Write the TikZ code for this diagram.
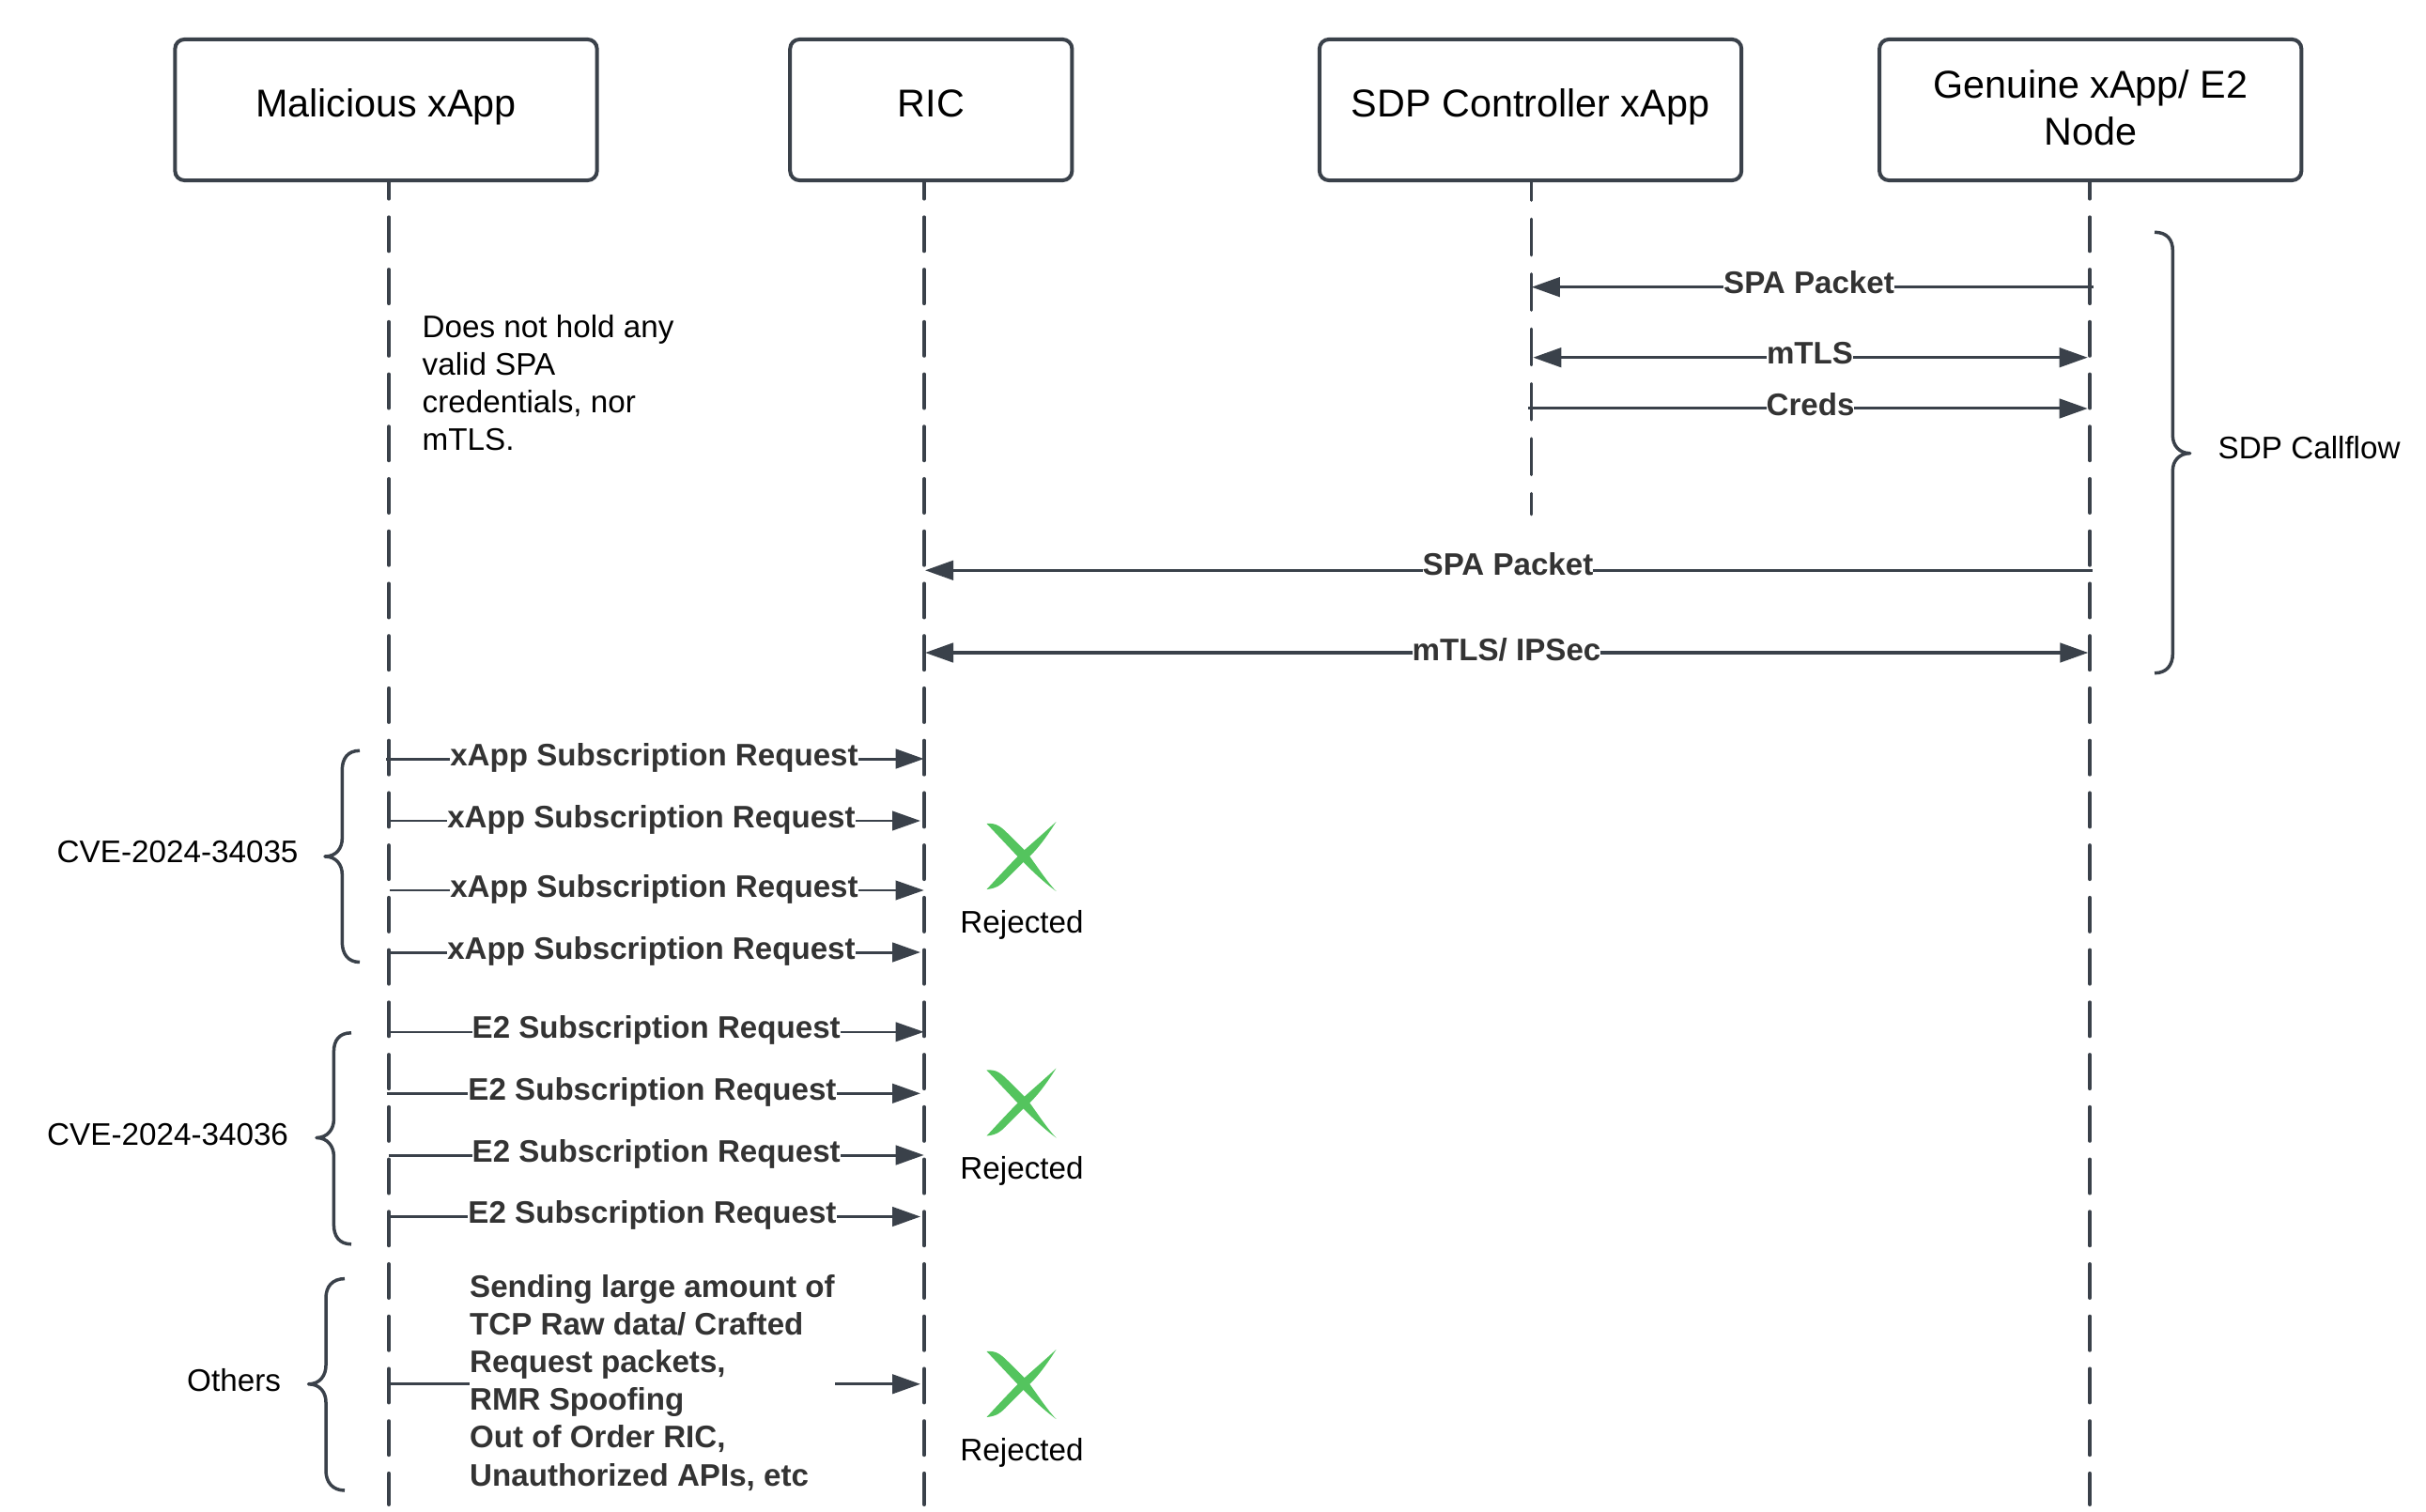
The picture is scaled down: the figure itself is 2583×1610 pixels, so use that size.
\documentclass[tikz,border=0pt]{standalone}
\usepackage{fontspec}
\setmainfont{Liberation Sans}
\usepackage{xcolor}
\usetikzlibrary{arrows.meta}
\definecolor{linegray}{HTML}{3A414A}
\definecolor{labelgray}{HTML}{333333}
\definecolor{crossgreen}{HTML}{54C45E}
\tikzset{
    actor/.style={draw=linegray,line width=0.04cm,rounded corners=0.1cm,fill=white,
        minimum height=1.5cm,inner sep=0pt,font=\fontsize{11.75}{14.2}\selectfont,align=center},
    actorline/.style={text height=8.6pt,text depth=4.6pt},
    lifeline/.style={draw=linegray,line width=0.04cm,line cap=round,
        dash pattern=on 0.36cm off 0.197cm,dash phase=0.174cm},
    sdpline/.style={draw=linegray,line width=0.028cm,line cap=round,
        dash pattern=on 0.388cm off 0.196cm,dash phase=0.183cm},
    msg/.style={draw=linegray,line width=0.03cm,-{Triangle[length=0.3cm,width=0.205cm]}},
    dblmsg/.style={msg,{Triangle[length=0.3cm,width=0.205cm]}-{Triangle[length=0.3cm,width=0.205cm]}},
    msglabel/.style={anchor=base,fill=white,inner sep=0pt,text=labelgray,font=\fontsize{9.42}{11.38}\selectfont\bfseries},
    plainlabel/.style={inner sep=0pt,font=\fontsize{9.45}{11.38}\selectfont},
    curly/.style={draw=linegray,line width=0.035cm,line join=round},
}
\begin{document}
\begin{tikzpicture}[x=0.01cm,y=-0.01cm]
    \useasboundingbox (0,0) rectangle (2583,1610);
    % actors
    \node[actor,actorline,minimum width=4.49cm] (malicious) at (411,117) {Malicious xApp};
    \node[actor,actorline,minimum width=3cm] (ric) at (991.3,117) {RIC};
    \node[actor,actorline,minimum width=4.49cm] (sdpctrl) at (1629.5,117) {SDP Controller xApp};
    \node[actor,minimum width=4.49cm] (genuine) at (2225.7,117) {Genuine xApp/ E2\\Node\rule[-1.4pt]{0pt}{0pt}};
    % lifelines
    \coordinate (maltop) at (414,193); \coordinate (malend) at (414,1602);
    \coordinate (rictop) at (984,193); \coordinate (ricend) at (984,1602);
    \coordinate (sdptop) at (1630.7,193); \coordinate (sdpend) at (1630.7,548);
    \coordinate (gentop) at (2225,193); \coordinate (genend) at (2225,1602);
    \draw[lifeline] (maltop) -- (malend);
    \draw[lifeline] (rictop) -- (ricend);
    \draw[sdpline] (sdptop) -- (sdpend);
    \draw[lifeline] (gentop) -- (genend);
    % SDP callflow
    \coordinate (a1) at (2228.7,305.7); \coordinate (b1) at (1630.7,305.7);
    \coordinate (a2) at (1632.3,380.7); \coordinate (b2) at (2222.7,380.7);
    \coordinate (a3) at (1627,435); \coordinate (b3) at (2222.7,435);
    \coordinate (a4) at (2227.7,607.3); \coordinate (b4) at (985,607.3);
    \coordinate (a5) at (985,695); \coordinate (b5) at (2223.3,695);
    \draw[msg] (a1) -- (b1);
    \draw[dblmsg] (a2) -- (b2);
    \draw[msg] (a3) -- (b3);
    \draw[msg] (a4) -- (b4);
    \draw[dblmsg] (a5) -- (b5);
    \node[msglabel] (spa1) at (1926,312.5) {SPA Packet};
    \node[msglabel] (mtls1) at (1927,388) {mTLS};
    \node[msglabel] (creds) at (1927.5,442.5) {Creds};
    \node[msglabel] (spa2) at (1605.5,613) {SPA Packet};
    \node[msglabel] (mtls2) at (1604,703) {mTLS/ IPSec};
    % xApp subscription
    \coordinate (a6) at (411,808); \coordinate (b6) at (983.7,808);
    \coordinate (a7) at (414,874); \coordinate (b7) at (980,874);
    \coordinate (a8) at (415,948); \coordinate (b8) at (983.7,948);
    \coordinate (a9) at (414,1014); \coordinate (b9) at (980,1014);
    \draw[msg] (a6) -- (b6);
    \draw[msg,line width=0.025cm] (a7) -- (b7);
    \draw[msg,line width=0.02cm] (a8) -- (b8);
    \draw[msg] (a9) -- (b9);
    \node[msglabel] (xapp1) at (696.5,815) {xApp Subscription Request};
    \node[msglabel] (xapp2) at (693.5,881) {xApp Subscription Request};
    \node[msglabel] (xapp3) at (696.5,955.5) {xApp Subscription Request};
    \node[msglabel] (xapp4) at (693.5,1021) {xApp Subscription Request};
    % E2 subscription
    \coordinate (a10) at (413,1098.8); \coordinate (b10) at (983.7,1098.8);
    \coordinate (a11) at (411.5,1164.3); \coordinate (b11) at (980,1164.3);
    \coordinate (a12) at (414,1230); \coordinate (b12) at (983.7,1230);
    \coordinate (a13) at (414,1295.5); \coordinate (b13) at (980,1295.5);
    \draw[msg,line width=0.02cm] (a10) -- (b10);
    \draw[msg] (a11) -- (b11);
    \draw[msg] (a12) -- (b12);
    \draw[msg] (a13) -- (b13);
    \node[msglabel] (e1) at (698.7,1105.8) {E2 Subscription Request};
    \node[msglabel] (e2) at (694.5,1171.3) {E2 Subscription Request};
    \node[msglabel] (e3) at (698.7,1237) {E2 Subscription Request};
    \node[msglabel] (e4) at (694.5,1302.5) {E2 Subscription Request};
    % others
    \coordinate (a14) at (414,1473.8); \coordinate (b14) at (980,1473.8);
    \draw[msg] (a14) -- (b14);
    \node[msglabel,anchor=west,align=left] (otherreq) at (499.5,1472.5)
        {Sending large amount of\\TCP Raw data/ Crafted\\Request packets,\\RMR Spoofing\\Out of Order RIC,\\Unauthorized APIs, etc};
    % notes
    \node[plainlabel,anchor=west,align=left] (note) at (449,407.5)
        {Does not hold any\\valid SPA\\credentials, nor\\mTLS.};
    \node[plainlabel,anchor=base west] (callflow) at (2361,488.3) {SDP Callflow};
    \node[plainlabel,anchor=base west] (cve35) at (60,918.8) {CVE-2024-34035};
    \node[plainlabel,anchor=base west] (cve36) at (49.5,1219) {CVE-2024-34036};
    \node[plainlabel,anchor=base west] (others) at (198.5,1481.4) {Others};
    % braces
    \draw[curly] (2294,247.3) .. controls (2307,247.3) and (2313.3,255) .. (2313.3,267) -- (2313.3,464)
        .. controls (2313.3,474) and (2320,482.7) .. (2331.7,482.7) .. controls (2320,482.7) and (2313.3,491) .. (2313.3,501)
        -- (2313.3,696) .. controls (2313.3,708) and (2307,716.7) .. (2294,716.7);
    \draw[curly] (383,799.3) .. controls (370,799.3) and (364.3,808) .. (364.3,820) -- (364.3,893)
        .. controls (364.3,903) and (358,912) .. (346,912) .. controls (358,912) and (364.3,921) .. (364.3,931)
        -- (364.3,1003) .. controls (364.3,1015) and (370,1024.5) .. (383,1024.5);
    \draw[curly] (374,1099.8) .. controls (361,1099.8) and (355.4,1108) .. (355.4,1120) -- (355.4,1192)
        .. controls (355.4,1202) and (349,1211.5) .. (337,1211.5) .. controls (349,1211.5) and (355.4,1221) .. (355.4,1231)
        -- (355.4,1304) .. controls (355.4,1316) and (361,1324.8) .. (374,1324.8);
    \draw[curly] (367,1361.6) .. controls (354,1361.6) and (347,1370) .. (347,1382) -- (347,1454)
        .. controls (347,1464) and (341,1473.8) .. (328.5,1473.8) .. controls (341,1473.8) and (347,1483) .. (347,1493)
        -- (347,1566) .. controls (347,1578) and (354,1587) .. (367,1587);
    % rejected marks
    \foreach \ypos/\ytext/\tag in {912/993/r1,1174.5/1255/r2,1474/1555/r3}{
        \begin{scope}[shift={(1087.5,\ypos)}]
            \fill[crossgreen] (-37,-35) .. controls (-27,-36) and (-22,-32) .. (-14,-24) -- (6,-4)
                .. controls (15,8) and (28,28) .. (37,37) .. controls (22,26) and (10,14) .. (-4,0) -- cycle;
            \fill[crossgreen] (37,-37) .. controls (25,-18) and (15,-5) .. (4,4) -- (-14,22)
                .. controls (-22,31) and (-27,34) .. (-37,35) .. controls (-25,22) and (-12,8) .. (0,-4)
                .. controls (10,-13) and (25,-26) .. cycle;
        \end{scope}
        \node[plainlabel,anchor=base] (\tag) at (1088,\ytext) {Rejected};
    }
\end{tikzpicture}
\end{document}
